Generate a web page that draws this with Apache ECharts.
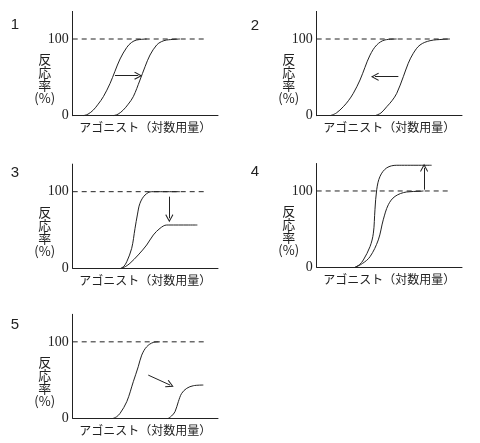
<!DOCTYPE html>
<html><head><meta charset="utf-8">
<script src="https://cdn.jsdelivr.net/npm/echarts@6/dist/echarts.min.js"></script>
<style>html,body{margin:0;padding:0;background:#fff}#c{width:480px;height:443px}</style>
</head><body><div id="c"></div>
<script>
// ---- data ----
const panelNames = ['1', '2', '3', '4', '5'];
const xTitle = 'アゴニスト（対数用量）';
const yTitle = '反\n応\n率\n(%)';
const yTickLabels = [0, 100];
const fullResponse = 100;
const dashEnd = 92.5;
const yMax = 136;

// panel 1: parallel shift to the right
const p1A = [[7.3,0],[10.5,2],[14.2,7.4],[17.5,15],[21.1,24.8],[25.7,42],[29.1,58],[32.6,74],[37.2,89],[40.5,95.5],[44,98.7],[50.9,100]];
const p1B = [[27.9,0],[31.2,2],[34.8,7.4],[38.2,15],[41.7,24.8],[46.3,46.5],[49.8,63.9],[53.2,79.1],[57.8,92.2],[61,96.5],[64.7,98.7],[73.8,100]];
const p1Arrow = [[29.1,52.2],[45.1,52.2]];
// panel 2: parallel shift to the left
const p2A = [[9.2,0],[13.5,3.5],[18.3,11.7],[21.8,19.5],[25.2,29.2],[29.8,46.5],[33.2,63],[36.7,79],[41.3,92.2],[47,98.8],[55,100]];
const p2B = [[40.1,0],[44.2,3.5],[48.2,11.7],[51.8,19.5],[55.1,29.2],[59.6,50.8],[63,68.3],[66.5,81.4],[71.1,92.2],[78,97.8],[87.1,99.6],[91.7,100]];
const p2Arrow = [[56.2,50.8],[40.1,50.8]];
// panel 3: decreased maximum
const p3A = [[33,0],[35.2,2.5],[37.2,8.6],[40.6,26.1],[42.9,52.2],[44.5,69.6],[46.3,84.9],[49.8,95.7],[54.4,100],[73.8,100]];
const p3B = [[33.7,0],[36.5,2.5],[39.4,6.5],[45.1,17.4],[50.9,30.4],[55.5,43.5],[60.1,52.2],[64.7,56.5],[85.8,56.5]];
const p3Arrow = [[66.5,93.5],[66.5,65.3]];
// panel 4: increased maximum
const p4A = [[26.4,0],[29.5,3.5],[32.1,9.6],[36.7,27.1],[39,44.7],[40.1,75.4],[41.3,101.7],[43.6,119.2],[48.2,130.3],[55.1,133.7],[79.1,133.7]];
const p4B = [[26.4,0],[31.5,5],[36.7,13.9],[42.4,35.9],[45.8,62.2],[49.3,82],[53.9,92.9],[61.9,98.7],[71.1,99.6],[73.5,100]];
const p4Arrow = [[73.9,101.7],[73.9,130.3]];
// panel 5: shift right and decreased maximum
const p5A = [[27.9,0],[30.2,2],[32.6,6.5],[37.2,21.7],[41.7,47.8],[45.1,67.4],[47.5,82.6],[50.9,93.5],[55.5,99.2],[60.1,100]];
const p5B = [[65.8,0],[68,3],[70.4,8.6],[72.7,21.7],[75,32.6],[78.5,39.2],[83,42.6],[89.9,43.5]];
const p5Arrow = [[52,56.5],[67,43.5]];

const panelCurves = [[p1A,p1B],[p2A,p2B],[p3A,p3B],[p4A,p4B],[p5A,p5B]];
const panelArrows = [p1Arrow,p2Arrow,p3Arrow,p4Arrow,p5Arrow];

// ---- layout ----
const W = 145.3;
const layout = [
  {left:72.7,  top:11.4,  h:104.3, num:[15,25]},
  {left:316.7, top:11.4,  h:104.3, num:[255,26]},
  {left:72.7,  top:164.1, h:104.2, num:[15,173]},
  {left:316.7, top:163.5, h:103.8, num:[255,172]},
  {left:72.7,  top:314.3, h:104.0, num:[15,325]}
];
const INK = '#222';
const JP = '"Noto Sans CJK JP", sans-serif';

const grid = [], xAxis = [], yAxis = [], series = [], graphic = [];
layout.forEach((L, i) => {
  grid.push({left:L.left, top:L.top, width:W, height:L.h, outerBoundsMode:'none', containLabel:false});
  xAxis.push({
    type:'value', gridIndex:i, min:0, max:100,
    axisLine:{show:true, lineStyle:{color:INK, width:1}},
    axisTick:{show:false}, axisLabel:{show:false}, splitLine:{show:false},
    name:xTitle, nameLocation:'middle', nameGap:6,
    nameTextStyle:{fontSize:12, fontFamily:JP, color:INK, verticalAlign:'top'}
  });
  yAxis.push({
    type:'value', gridIndex:i, min:0, max:yMax, interval:100,
    axisLine:{show:true, lineStyle:{color:INK, width:1}},
    axisTick:{show:false}, splitLine:{show:false},
    axisLabel:{
      margin:4, fontSize:14, fontFamily:'Liberation Serif', color:INK,
      formatter: v => yTickLabels.indexOf(v) >= 0 ? String(v) : ''
    }
  });
  series.push({
    type:'line', xAxisIndex:i, yAxisIndex:i, symbol:'none', silent:true,
    data:[[0,fullResponse],[dashEnd,fullResponse]],
    lineStyle:{color:INK, width:1, type:[5,4]}
  });
  panelCurves[i].forEach(c => {
    series.push({
      type:'line', xAxisIndex:i, yAxisIndex:i, symbol:'none', silent:true,
      smooth:0.35, data:c, lineStyle:{color:INK, width:1}
    });
  });
  series.push({
    type:'lines', coordinateSystem:'cartesian2d', xAxisIndex:i, yAxisIndex:i, silent:true,
    symbol:['none','path://M5,0 L10,9 L9,9.8 L5,2.6 L1,9.8 L0,9 Z'], symbolSize:[7,8],
    lineStyle:{color:INK, width:1, opacity:1},
    itemStyle:{color:INK},
    data:[{coords:panelArrows[i]}]
  });
  graphic.push({
    type:'text', x:L.num[0], y:L.num[1],
    style:{text:panelNames[i], fontSize:15, fontFamily:'Liberation Sans', fill:INK, align:'center', verticalAlign:'middle'}
  });
  graphic.push({
    type:'text', x:L.left - 28, y:L.top + L.h - 37,
    style:{text:yTitle, fontSize:13, lineHeight:13, fontFamily:JP, fill:INK, align:'center', verticalAlign:'middle'}
  });
});

const chart = echarts.init(document.getElementById('c'), null, {renderer:'canvas'});
chart.setOption({animation:false, backgroundColor:'#fff', grid, xAxis, yAxis, series, graphic});
</script>
</body></html>
